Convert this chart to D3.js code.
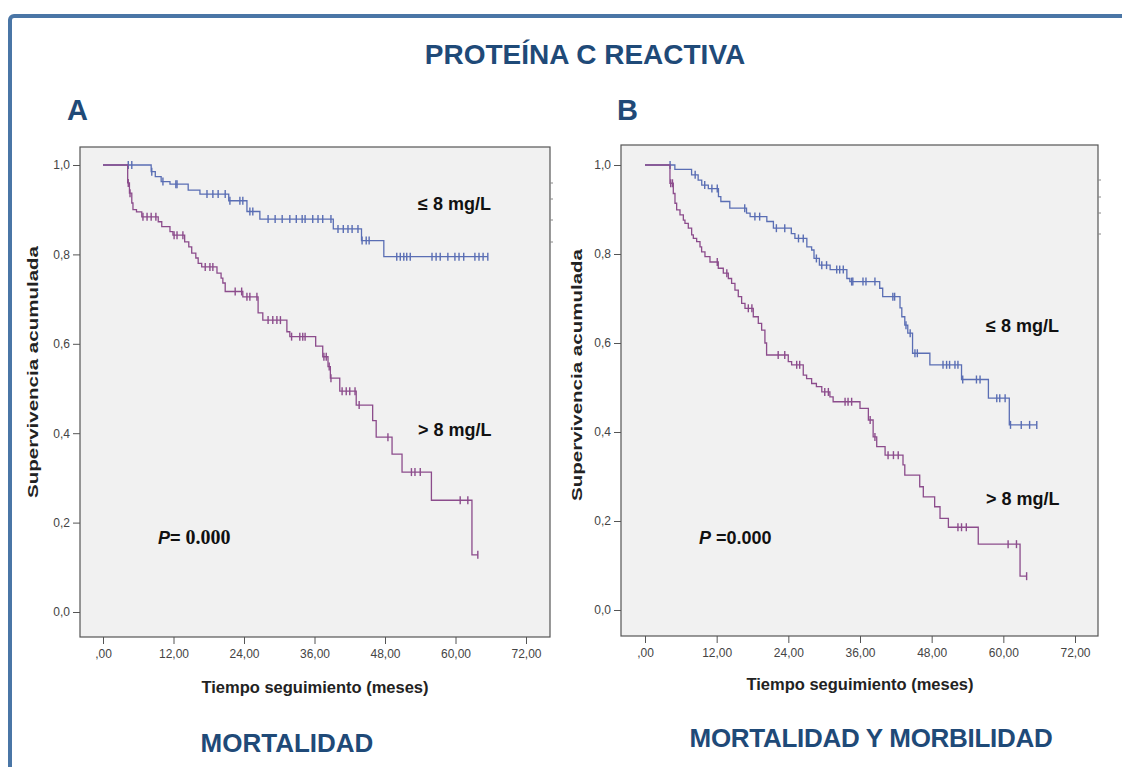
<!DOCTYPE html>
<html>
<head>
<meta charset="utf-8">
<script src="https://cdn.jsdelivr.net/npm/d3@7"></script>
<style>
  body { margin: 0; background: #fff; }
  svg { display: block; font-family: "Liberation Sans", Arial, sans-serif; }
</style>
</head>
<body>
<script>
// Ejes
var xTicks = [0, 12, 24, 36, 48, 60, 72];
var xTickLabels = [",00", "12,00", "24,00", "36,00", "48,00", "60,00", "72,00"];
var yTicks = [0, 0.2, 0.4, 0.6, 0.8, 1.0];
var yTickLabels = ["0,0", "0,2", "0,4", "0,6", "0,8", "1,0"];

// Panel A (mortalidad) -- grupo <= 8 mg/L
var aBajoT = [8.2, 8.9, 9.9, 11.4, 14.5, 16.5, 21.4, 24.5, 26.7, 39.2, 44.0, 47.8];
var aBajoS = [0.985, 0.974, 0.963, 0.957, 0.944, 0.935, 0.92, 0.896, 0.879, 0.857, 0.831, 0.795];
var aBajoCens = [4.3, 4.9, 8.3, 10.2, 12.4, 12.6, 17.7, 18.7, 19.6, 20.8, 21.6, 23.3, 23.8, 25.0, 25.5,
  28.1, 29.3, 30.5, 31.8, 32.9, 33.9, 34.4, 35.7, 36.6, 37.4, 38.8, 40.0, 40.9, 41.7, 42.4, 43.4,
  44.1, 44.8, 45.3, 50.0, 50.6, 51.2, 51.7, 52.3, 56.0, 56.7, 57.4, 58.7, 59.9, 60.6, 61.4,
  63.3, 64.0, 64.7, 65.5];
var aBajoFin = 65.5;

// Panel A -- grupo > 8 mg/L
var aAltoT = [4.2, 4.5, 4.9, 5.1, 5.7, 6.6, 9.4, 10.0, 11.4, 11.9, 13.9, 14.6, 15.1, 15.8, 16.2, 16.8,
  19.4, 20.1, 20.4, 20.8, 23.8, 26.4, 27.2, 31.3, 31.8, 36.2, 37.4, 38.3, 38.7, 40.3, 43.1, 45.9,
  46.5, 49.2, 50.9, 55.9, 62.8];
var aAltoS = [0.96, 0.937, 0.915, 0.90, 0.895, 0.884, 0.873, 0.862, 0.851, 0.843, 0.828, 0.817, 0.803,
  0.792, 0.78, 0.772, 0.758, 0.747, 0.736, 0.717, 0.705, 0.669, 0.653, 0.627, 0.616, 0.595, 0.571,
  0.549, 0.523, 0.494, 0.463, 0.428, 0.391, 0.353, 0.313, 0.25, 0.128];
var aAltoCens = [4.3, 4.6, 6.8, 7.5, 8.2, 9.0, 12.1, 12.6, 13.6, 17.4, 18.2, 18.7, 22.5, 23.6, 24.5,
  25.0, 26.2, 28.1, 28.9, 29.6, 30.2, 32.1, 33.5, 34.0, 34.4, 37.6, 38.0, 38.5, 38.8, 40.7, 41.4,
  42.0, 42.9, 43.6, 48.5, 52.5, 53.1, 54.0, 60.8, 62.1, 63.8];
var aAltoFin = 63.8;

// Panel B (mortalidad y morbilidad) -- grupo <= 8 mg/L
var bBajoT = [5.0, 7.8, 8.9, 9.5, 10.6, 12.3, 12.7, 14.2, 17.0, 17.6, 20.4, 21.5, 24.5, 25.1, 27.1,
  27.9, 28.3, 29.2, 31.0, 33.8, 34.3, 39.3, 39.8, 42.7, 43.0, 43.5, 44.0, 44.8, 47.7, 53.0, 57.5, 61.0];
var bBajoS = [0.99, 0.978, 0.966, 0.955, 0.947, 0.929, 0.918, 0.903, 0.892, 0.884, 0.873, 0.858, 0.846,
  0.835, 0.816, 0.809, 0.79, 0.775, 0.765, 0.745, 0.738, 0.723, 0.704, 0.679, 0.659, 0.64, 0.622,
  0.577, 0.551, 0.518, 0.476, 0.416];
var bBajoCens = [4.2, 8.4, 10.0, 11.2, 12.1, 16.7, 18.4, 19.2, 22.0, 23.4, 25.7, 26.5, 28.7, 29.6, 30.4,
  32.1, 32.6, 33.2, 34.6, 34.8, 36.5, 37.0, 38.5, 41.5, 41.8, 43.7, 44.4, 45.2, 45.6, 49.9, 50.5,
  51.0, 51.9, 52.4, 53.2, 55.5, 56.1, 58.9, 59.4, 60.3, 61.2, 63.0, 64.4, 65.6];
var bBajoFin = 65.6;

// Panel B -- grupo > 8 mg/L
var bAltoT = [4.18, 4.74, 5.02, 5.30, 5.86, 6.42, 6.69, 7.25, 7.81, 8.09, 8.65, 9.21, 9.48, 10.04, 10.88,
  12.27, 13.11, 13.95, 14.5, 15.06, 15.62, 16.18, 16.74, 18.13, 18.97, 19.53, 20.08, 20.36, 23.99,
  24.55, 26.5, 27.06, 27.9, 28.7, 29.6, 30.96, 31.5, 36.0, 37.4, 38.2, 38.8, 40.2, 43.2, 43.5, 46.0,
  46.6, 48.5, 49.4, 50.8, 55.8, 62.8];
var bAltoS = [0.959, 0.936, 0.914, 0.899, 0.888, 0.876, 0.869, 0.858, 0.843, 0.835, 0.828, 0.816, 0.805,
  0.794, 0.782, 0.768, 0.757, 0.745, 0.734, 0.719, 0.704, 0.689, 0.678, 0.659, 0.644, 0.629, 0.60,
  0.573, 0.558, 0.551, 0.528, 0.52, 0.509, 0.502, 0.49, 0.479, 0.468, 0.453, 0.427, 0.389, 0.367,
  0.348, 0.326, 0.303, 0.277, 0.254, 0.232, 0.206, 0.186, 0.148, 0.076];
var bAltoCens = [4.3, 4.6, 12.1, 13.7, 17.3, 17.9, 22.3, 23.4, 25.4, 25.9, 30.1, 30.7, 33.5, 34.0, 34.6,
  37.7, 38.5, 40.7, 41.6, 42.4, 52.4, 53.0, 53.8, 60.8, 62.2, 63.9];
var bAltoFin = 63.9;

var AZUL = "#5a6eb4";
var MORADO = "#8c4c8c";
var NAVY = "#1f4a78";

var svg = d3.select("body").append("svg")
  .attr("width", 1122)
  .attr("height", 767);

// Marco azul
svg.append("rect")
  .attr("x", 10).attr("y", 16)
  .attr("width", 1140).attr("height", 770)
  .attr("rx", 4)
  .attr("fill", "#fff")
  .attr("stroke", "#4a76a6")
  .attr("stroke-width", 4);

svg.append("text")
  .attr("x", 585).attr("y", 64)
  .attr("text-anchor", "middle")
  .attr("font-size", 28).attr("font-weight", "bold")
  .attr("fill", NAVY)
  .text("PROTEÍNA C REACTIVA");

function survAt(times, surv, t) {
  var s = 1;
  for (var i = 0; i < times.length; i++) { if (times[i] <= t) s = surv[i]; }
  return s;
}

function dibujarPanel(cfg) {
  var g = svg.append("g");
  var x = d3.scaleLinear().domain([0, 72]).range([cfg.x0, cfg.x72]);
  var y = d3.scaleLinear().domain([0, 1]).range([cfg.y0, cfg.y1]);

  g.append("text")
    .attr("x", cfg.letraX).attr("y", 120)
    .attr("font-size", 29).attr("font-weight", "bold")
    .attr("fill", NAVY)
    .text(cfg.letra);

  g.append("rect")
    .attr("x", cfg.box[0]).attr("y", cfg.box[1])
    .attr("width", cfg.box[2] - cfg.box[0]).attr("height", cfg.box[3] - cfg.box[1])
    .attr("fill", "#f1f1f1")
    .attr("stroke", "#555").attr("stroke-width", 1.2);

  // restos de la leyenda a la derecha
  g.selectAll(".ley").data(cfg.ley).enter().append("line")
    .attr("x1", cfg.box[2]).attr("x2", cfg.box[2] + 3)
    .attr("y1", function(d) { return d; }).attr("y2", function(d) { return d; })
    .attr("stroke", "#888");

  var ejeX = d3.axisBottom(x).tickValues(xTicks)
    .tickFormat(function(d, i) { return xTickLabels[i]; })
    .tickSize(7).tickSizeOuter(0);
  var gx = g.append("g").attr("transform", "translate(0," + cfg.box[3] + ")").call(ejeX);
  gx.select(".domain").remove();
  gx.selectAll("line").attr("stroke", "#555");
  gx.selectAll("text").attr("font-size", 12).attr("fill", "#444")
    .attr("font-family", "Liberation Sans, Arial").attr("dy", "0.9em");

  var ejeY = d3.axisLeft(y).tickValues(yTicks)
    .tickFormat(function(d, i) { return yTickLabels[i]; })
    .tickSize(7).tickSizeOuter(0);
  var gy = g.append("g").attr("transform", "translate(" + cfg.box[0] + ",0)").call(ejeY);
  gy.select(".domain").remove();
  gy.selectAll("line").attr("stroke", "#555");
  gy.selectAll("text").attr("font-size", 12).attr("fill", "#444")
    .attr("font-family", "Liberation Sans, Arial").attr("x", -10);

  g.append("text")
    .attr("transform", "translate(" + cfg.yTitulo[0] + "," + cfg.yTitulo[1] + ") rotate(-90)")
    .attr("text-anchor", "middle")
    .attr("font-size", 15).attr("font-weight", "bold").attr("fill", "#222")
    .attr("textLength", 252).attr("lengthAdjust", "spacingAndGlyphs")
    .text("Supervivencia acumulada");

  g.append("text")
    .attr("x", cfg.xTitulo[0]).attr("y", cfg.xTitulo[1])
    .attr("text-anchor", "middle")
    .attr("font-size", 16.5).attr("font-weight", "bold").attr("fill", "#222")
    .text("Tiempo seguimiento (meses)");

  var linea = d3.line()
    .x(function(d) { return x(d[0]); })
    .y(function(d) { return y(d[1]); })
    .curve(d3.curveStepAfter);

  cfg.curvas.forEach(function(c) {
    var pts = [[0, 1]];
    c.t.forEach(function(t, i) { pts.push([t, c.s[i]]); });
    pts.push([c.fin, c.s[c.s.length - 1]]);
    g.append("path").datum(pts)
      .attr("d", linea)
      .attr("fill", "none")
      .attr("stroke", c.color)
      .attr("stroke-width", 1.3);
    g.selectAll(null).data(c.cens).enter().append("line")
      .attr("x1", function(d) { return x(d); })
      .attr("x2", function(d) { return x(d); })
      .attr("y1", function(d) { return y(survAt(c.t, c.s, d)) - 4; })
      .attr("y2", function(d) { return y(survAt(c.t, c.s, d)) + 4; })
      .attr("stroke", c.color)
      .attr("stroke-width", 1.4);
  });

  cfg.etiquetas.forEach(function(e) {
    g.append("text")
      .attr("x", e[0]).attr("y", e[1])
      .attr("font-size", 18).attr("font-weight", "bold").attr("fill", "#111")
      .text(e[2]);
  });

  var p = g.append("text")
    .attr("x", cfg.pValor[0]).attr("y", cfg.pValor[1])
    .attr("font-size", 18).attr("font-weight", "bold").attr("fill", "#111");
  p.append("tspan").attr("font-style", "italic").text("P");
  p.append("tspan").text(cfg.pValor[2]);
  p.append("tspan").attr("font-family", cfg.pSerif ? "Liberation Serif, serif" : null)
    .attr("font-size", cfg.pSerif ? 20 : 18).text("0.000");

  g.append("text")
    .attr("x", cfg.sub[0]).attr("y", cfg.sub[1])
    .attr("text-anchor", "middle")
    .attr("font-size", 26).attr("font-weight", "bold").attr("fill", NAVY)
    .attr("letter-spacing", cfg.subLS)
    .text(cfg.sub[2]);
}

dibujarPanel({
  letra: "A", letraX: 67,
  box: [80, 147, 550, 637],
  x0: 103, x72: 526, y0: 612, y1: 165,
  ley: [183, 199, 220, 242],
  yTitulo: [38, 372], xTitulo: [315, 693],
  curvas: [
    { t: aBajoT, s: aBajoS, cens: aBajoCens, fin: aBajoFin, color: AZUL },
    { t: aAltoT, s: aAltoS, cens: aAltoCens, fin: aAltoFin, color: MORADO }
  ],
  etiquetas: [[418, 210, "≤ 8 mg/L"], [418, 436, "> 8 mg/L"]],
  pValor: [158, 544, "= "], pSerif: true,
  sub: [287, 752, "MORTALIDAD"], subLS: 0
});

dibujarPanel({
  letra: "B", letraX: 617,
  box: [621, 145, 1098, 636],
  x0: 645, x72: 1075, y0: 610, y1: 165,
  ley: [180, 197, 213, 234],
  yTitulo: [582, 375], xTitulo: [860, 690],
  curvas: [
    { t: bBajoT, s: bBajoS, cens: bBajoCens, fin: bBajoFin, color: AZUL },
    { t: bAltoT, s: bAltoS, cens: bAltoCens, fin: bAltoFin, color: MORADO }
  ],
  etiquetas: [[986, 332, "≤ 8 mg/L"], [986, 505, "> 8 mg/L"]],
  pValor: [699, 544, " ="], pSerif: false,
  sub: [871, 747, "MORTALIDAD Y MORBILIDAD"], subLS: -0.3
});
</script>
</body>
</html>
